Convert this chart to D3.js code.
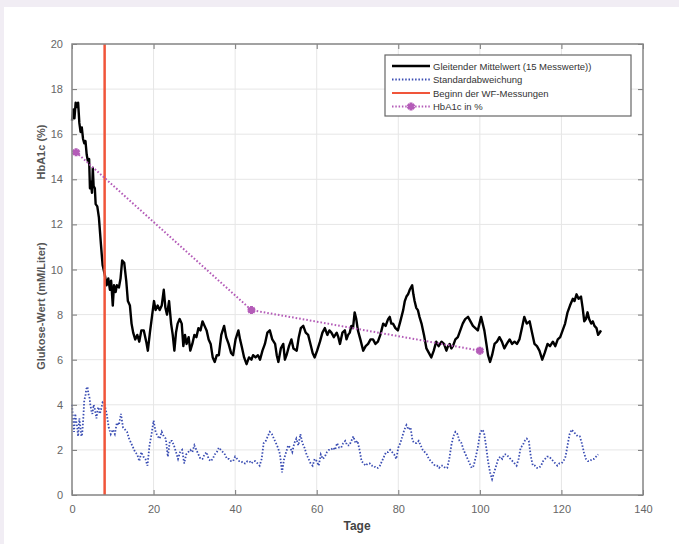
<!DOCTYPE html>
<html>
<head>
<meta charset="utf-8">
<script src="https://cdn.jsdelivr.net/npm/d3@7"></script>
<style>
  body { margin: 0; background: #f1edf4; }
  svg { display: block; }
</style>
</head>
<body>
<svg id="chart" width="679" height="544"></svg>
<script>
// Gleitender Mittelwert (15 Messwerte) -- [Tag, mM/Liter]
const meanSeries = [
  [0, 16.6], [0.3, 17.1], [0.6, 16.7], [0.9, 17.4], [1.2, 17.2], [1.5, 17.4], [1.8, 16.5], [2.1, 16.1],
  [2.4, 16.3], [2.7, 15.8], [3.0, 15.6], [3.3, 15.7], [3.6, 15.1], [3.9, 14.8], [4.2, 14.9], [4.4, 13.6],
  [4.6, 13.9], [4.9, 13.4], [5.1, 14.5], [5.3, 13.7], [5.6, 13.6], [5.8, 12.9], [6.2, 12.8], [6.6, 12.3],
  [7.1, 11.1], [7.5, 10.2], [8.0, 9.8], [8.5, 9.3], [8.9, 9.6], [9.3, 9.1], [9.6, 9.5], [10.0, 8.4],
  [10.3, 9.3], [10.7, 9.0], [11.0, 9.3], [11.5, 9.2], [11.9, 9.6], [12.3, 10.4], [12.8, 10.3], [13.3, 9.5],
  [13.7, 8.6], [14.2, 8.4], [14.6, 7.6], [15.0, 7.2], [15.5, 6.9], [16.0, 7.1], [16.5, 6.8], [17.0, 7.3],
  [17.6, 7.3], [18.2, 6.8], [18.6, 6.4], [19.1, 7.2], [19.6, 7.9], [20.1, 8.6], [20.5, 8.2], [21.0, 8.4],
  [21.5, 8.2], [22.0, 8.4], [22.5, 9.1], [22.9, 8.3], [23.3, 8.0], [23.8, 8.6], [24.3, 7.6], [24.7, 7.1],
  [25.1, 6.4], [25.5, 7.2], [25.9, 7.6], [26.4, 7.8], [26.9, 7.6], [27.3, 6.6], [27.7, 7.1], [28.1, 6.7],
  [28.6, 7.0], [29.0, 6.4], [29.5, 6.7], [30.0, 7.1], [30.5, 7.0], [31.0, 7.4], [31.5, 7.3], [32.0, 7.7],
  [32.5, 7.5], [33.0, 7.3], [33.5, 6.9], [34.0, 6.7], [34.5, 6.1], [35.0, 5.9], [35.5, 6.2], [36.0, 6.2],
  [36.6, 7.1], [37.3, 7.5], [37.8, 7.0], [38.4, 6.7], [39.0, 6.3], [39.5, 6.2], [40.1, 6.9], [40.8, 7.3],
  [41.2, 6.9], [41.6, 6.6], [42.2, 6.1], [42.8, 5.8], [43.4, 6.1], [44.0, 6.0], [44.4, 6.2], [45.0, 6.1],
  [45.6, 6.2], [46.1, 6.0], [46.7, 6.4], [47.3, 6.7], [47.9, 7.2], [48.5, 7.3], [49.1, 6.9], [49.8, 6.7],
  [50.2, 6.2], [50.6, 5.9], [51.2, 6.5], [51.8, 6.7], [52.2, 6.0], [52.6, 6.2], [53.2, 6.6], [53.8, 6.9],
  [54.3, 6.5], [55.1, 6.4], [55.6, 7.0], [56.1, 7.4], [56.7, 7.5], [57.3, 7.2], [57.9, 7.1], [58.6, 6.6],
  [59.0, 6.3], [59.5, 6.1], [60.1, 6.4], [60.8, 6.8], [61.4, 7.2], [62.0, 7.4], [62.6, 7.1], [63.1, 7.3],
  [63.6, 7.2], [64.2, 7.0], [64.9, 7.2], [65.3, 7.0], [65.7, 6.7], [66.3, 7.2], [66.9, 7.3], [67.3, 6.9],
  [67.7, 7.1], [68.1, 7.2], [68.5, 7.5], [68.9, 7.4], [69.3, 8.1], [69.7, 7.8], [70.1, 7.3], [70.7, 6.9],
  [71.4, 6.4], [72.0, 6.6], [72.6, 6.7], [73.2, 6.9], [73.8, 6.9], [74.4, 6.7], [75.0, 6.8], [75.6, 7.1],
  [76.3, 7.6], [76.9, 7.5], [77.5, 7.8], [77.9, 7.9], [78.3, 7.6], [78.7, 7.6], [79.3, 7.4], [79.9, 7.3],
  [80.5, 7.7], [81.2, 8.2], [81.6, 8.6], [82.0, 8.8], [82.4, 8.9], [82.8, 9.1], [83.4, 9.3], [83.7, 8.9],
  [84.0, 8.6], [84.4, 8.3], [84.8, 8.2], [85.2, 7.9], [85.7, 7.6], [86.3, 7.1], [86.9, 6.5], [87.5, 6.3],
  [88.1, 6.1], [88.7, 6.4], [89.3, 6.8], [89.9, 6.6], [90.6, 6.8], [91.2, 6.7], [91.8, 6.4], [92.2, 6.6],
  [92.6, 6.7], [93.0, 6.5], [93.4, 6.6], [94.0, 6.9], [94.6, 7.0], [95.2, 7.3], [95.8, 7.6], [96.4, 7.8],
  [97.1, 7.9], [97.7, 7.7], [98.3, 7.5], [98.9, 7.4], [99.5, 7.3], [99.9, 7.6], [100.3, 7.9], [100.7, 7.6],
  [101.1, 7.3], [101.6, 6.7], [102.0, 6.2], [102.5, 5.9], [103.0, 6.2], [103.6, 6.7], [104.2, 6.8],
  [104.8, 7.0], [105.4, 6.8], [106.0, 6.5], [106.6, 6.7], [107.3, 6.9], [107.9, 6.7], [108.5, 6.8],
  [109.1, 6.7], [109.7, 6.9], [110.3, 7.4], [110.9, 7.9], [111.5, 7.6], [112.2, 7.7], [112.8, 7.2],
  [113.4, 6.7], [114.0, 6.6], [114.6, 6.4], [115.3, 6.0], [115.9, 6.3], [116.6, 6.7], [117.2, 6.6],
  [117.9, 6.8], [118.5, 6.6], [119.1, 6.9], [119.7, 7.0], [120.3, 7.3], [120.9, 7.6], [121.5, 8.1],
  [122.1, 8.4], [122.8, 8.7], [123.2, 8.6], [123.7, 8.9], [124.2, 8.7], [124.8, 8.8], [125.2, 8.3],
  [125.6, 7.7], [126.0, 7.8], [126.4, 8.1], [126.8, 7.8], [127.3, 7.6], [127.7, 7.7], [128.1, 7.5],
  [128.6, 7.4], [129.0, 7.1], [129.4, 7.2], [129.7, 7.3]
];

// Standardabweichung -- [Tag, mM/Liter]
const sdSeries = [
  [0, 4.0], [0.3, 3.2], [0.5, 2.8], [0.8, 3.6], [1, 3.3], [1.3, 3.0], [1.5, 2.6], [1.8, 3.4], [2, 3.1],
  [2.3, 2.6], [2.5, 2.7], [2.8, 3.5], [3, 4.2], [3.3, 4.4], [3.5, 4.7], [3.8, 4.8], [4, 4.5], [4.3, 4.3],
  [4.5, 4.0], [4.8, 3.7], [5, 3.6], [5.3, 4.0], [5.5, 3.9], [5.8, 3.6], [6, 3.4], [6.3, 3.8], [6.5, 3.9],
  [6.8, 3.6], [7, 3.7], [7.5, 4.1], [8, 4.0], [8.5, 3.6], [9, 3.0], [9.5, 2.7], [10, 2.9], [10.5, 2.7],
  [11, 3.2], [11.5, 3.1], [12, 3.6], [12.5, 3.0], [13, 2.9], [13.5, 2.8], [14, 2.5], [14.5, 2.3], [15, 2.1],
  [15.5, 1.9], [16, 1.8], [16.5, 1.5], [17, 1.9], [17.5, 1.7], [18, 1.6], [18.5, 1.3], [19, 2.2],
  [19.5, 2.7], [20, 3.3], [20.5, 2.8], [21, 2.6], [21.5, 2.5], [22, 2.8], [22.5, 2.6], [23, 2.5],
  [23.5, 1.7], [24, 2.4], [24.5, 2.4], [25, 2.2], [25.5, 1.9], [26, 1.6], [26.5, 1.9], [27, 2.0],
  [27.5, 1.4], [28, 1.8], [28.5, 1.9], [29, 2.0], [29.5, 1.9], [30, 2.2], [30.5, 2.0], [31, 1.8],
  [31.5, 1.6], [32, 1.6], [32.5, 1.8], [33, 1.9], [33.5, 1.6], [34, 1.5], [34.5, 1.6], [35, 1.8],
  [35.5, 1.9], [36, 2.1], [36.5, 2.0], [37, 1.9], [37.5, 1.8], [38, 1.6], [38.5, 1.6], [39, 1.5],
  [39.5, 1.5], [40, 1.7], [40.5, 1.6], [41, 1.5], [41.5, 1.5], [42, 1.4], [42.5, 1.4], [43, 1.5],
  [43.5, 1.5], [44, 1.4], [44.5, 1.5], [45, 1.5], [45.5, 1.4], [46, 1.3], [46.5, 1.6], [47, 2.3],
  [47.5, 2.4], [48, 2.6], [48.5, 2.8], [49, 2.7], [49.5, 2.5], [50, 2.3], [50.5, 2.1], [51, 1.8],
  [51.5, 1.0], [52, 1.6], [52.5, 1.9], [53, 2.2], [53.5, 2.1], [54, 1.9], [54.5, 2.3], [55, 2.5],
  [55.5, 2.2], [56, 2.7], [56.5, 2.3], [57, 2.1], [57.5, 1.8], [58, 1.6], [58.5, 1.4], [59, 1.3],
  [59.5, 1.6], [60, 1.5], [60.5, 1.3], [61, 1.8], [61.5, 1.6], [62, 1.7], [62.5, 1.9], [63, 2.0],
  [63.5, 2.0], [64, 2.1], [64.5, 2.0], [65, 2.3], [65.5, 2.1], [66, 2.1], [66.5, 2.3], [67, 2.4],
  [67.5, 2.2], [68, 2.2], [68.5, 2.4], [69, 2.6], [69.5, 2.3], [70, 2.4], [70.5, 2.0], [71, 1.5],
  [71.5, 1.4], [72, 1.3], [72.5, 1.4], [73, 1.4], [73.5, 1.3], [74, 1.3], [74.5, 1.2], [75, 1.2],
  [75.5, 1.3], [76, 1.5], [76.5, 1.7], [77, 1.9], [77.5, 1.9], [78, 2.0], [78.5, 1.9], [79, 1.8],
  [79.5, 1.6], [80, 2.1], [80.5, 2.3], [81, 2.6], [81.5, 2.9], [82, 3.1], [82.5, 2.9], [83, 3.0],
  [83.5, 2.4], [84, 2.3], [84.5, 2.3], [85, 2.4], [85.5, 2.2], [86, 2.0], [86.5, 1.9], [87, 1.8],
  [87.5, 1.6], [88, 1.5], [88.5, 1.4], [89, 1.3], [89.5, 1.3], [90, 1.2], [90.5, 1.3], [91, 1.3],
  [91.5, 1.2], [92, 1.2], [92.5, 1.6], [93, 2.2], [93.5, 2.6], [94, 2.8], [94.5, 2.7], [95, 2.4],
  [95.5, 2.3], [96, 2.0], [96.5, 1.8], [97, 1.6], [97.5, 1.4], [98, 1.2], [98.5, 1.3], [99, 1.7],
  [99.5, 2.1], [100, 2.7], [100.5, 2.9], [101, 2.8], [101.5, 2.2], [102, 1.5], [102.5, 1.0], [103, 0.7],
  [103.5, 1.0], [104, 1.3], [104.5, 1.6], [105, 1.7], [105.5, 1.6], [106, 1.8], [106.5, 1.8], [107, 1.7],
  [107.5, 1.6], [108, 1.5], [108.5, 1.4], [109, 1.3], [109.5, 1.6], [110, 2.1], [110.5, 2.2], [111, 2.4],
  [111.5, 2.5], [112, 2.4], [112.5, 1.7], [113, 1.3], [113.5, 1.3], [114, 1.2], [114.5, 1.2], [115, 1.3],
  [115.5, 1.5], [116, 1.6], [116.5, 1.7], [117, 1.7], [117.5, 1.6], [118, 1.5], [118.5, 1.4], [119, 1.3],
  [119.5, 1.4], [120, 1.4], [120.5, 1.5], [121, 1.7], [121.5, 2.2], [122, 2.7], [122.5, 2.9], [123, 2.8],
  [123.5, 2.7], [124, 2.6], [124.5, 2.6], [125, 2.3], [125.5, 1.9], [126, 1.6], [126.5, 1.5], [127, 1.5],
  [127.5, 1.6], [128, 1.6], [128.5, 1.7], [129, 1.8]
];

// HbA1c in % -- [Tag, %]
const hba1c = [[1, 15.2], [44, 8.2], [100, 6.4]];

// Beginn der WF-Messungen (Tag)
const wfStart = 8;

const xTicks = [0, 20, 40, 60, 80, 100, 120, 140];
const yTicks = [0, 2, 4, 6, 8, 10, 12, 14, 16, 18, 20];

const legendItems = [
  { label: "Gleitender Mittelwert (15 Messwerte))", kind: "mean" },
  { label: "Standardabweichung", kind: "sd" },
  { label: "Beginn der WF-Messungen", kind: "wf" },
  { label: "HbA1c in %", kind: "hba" }
];

const colors = { mean: "#000", sd: "#3a4db3", wf: "#f0553a", hba: "#b45cb8" };

var svg = d3.select("#chart");
var font = "'Liberation Sans', Arial, sans-serif";

// white panel on lavender page
svg.append("rect").attr("x", 4).attr("y", 7).attr("width", 675).attr("height", 537).attr("fill", "#fff");

var margin = { left: 72, top: 44, right: 36, bottom: 49 },
    width = 679 - margin.left - margin.right,
    height = 544 - margin.top - margin.bottom,
    g = svg.append("g").attr("transform", "translate(" + margin.left + "," + margin.top + ")");

var x = d3.scaleLinear().domain([0, 140]).range([0, width]);
var y = d3.scaleLinear().domain([0, 20]).range([height, 0]);

// grid
g.append("g").selectAll("line").data(xTicks).join("line")
    .attr("x1", d => x(d)).attr("x2", d => x(d)).attr("y1", 0).attr("y2", height)
    .attr("stroke", "#e6e6e6").attr("stroke-width", 1);
g.append("g").selectAll("line").data(yTicks).join("line")
    .attr("x1", 0).attr("x2", width).attr("y1", d => y(d)).attr("y2", d => y(d))
    .attr("stroke", "#e6e6e6").attr("stroke-width", 1);

// axes with inward ticks on all sides
function styleAxis(sel) {
  sel.select(".domain").remove();
  sel.selectAll(".tick line").attr("stroke", "#777").attr("stroke-width", 1);
  sel.selectAll(".tick text").attr("fill", "#666").style("font-family", font).style("font-size", "11px");
}
g.append("g").attr("transform", "translate(0," + height + ")")
    .call(d3.axisBottom(x).tickValues(xTicks).tickSizeInner(-5).tickSizeOuter(0).tickPadding(10))
    .call(styleAxis);
g.append("g")
    .call(d3.axisLeft(y).tickValues(yTicks).tickSizeInner(-5).tickSizeOuter(0).tickPadding(9))
    .call(styleAxis);
g.append("g")
    .call(d3.axisTop(x).tickValues(xTicks).tickSizeInner(-5).tickSizeOuter(0).tickFormat(""))
    .call(styleAxis);
g.append("g").attr("transform", "translate(" + width + ",0)")
    .call(d3.axisRight(y).tickValues(yTicks).tickSizeInner(-5).tickSizeOuter(0).tickFormat(""))
    .call(styleAxis);

// std dev
var line = d3.line().x(d => x(d[0])).y(d => y(d[1]));
g.append("path").datum(sdSeries)
    .attr("fill", "none").attr("stroke", colors.sd).attr("stroke-width", 1.8)
    .attr("stroke-dasharray", "1.5,1.8").attr("d", line);

// moving mean
g.append("path").datum(meanSeries)
    .attr("fill", "none").attr("stroke", colors.mean).attr("stroke-width", 2.4)
    .attr("stroke-linejoin", "round").attr("d", line);

// WF start
g.append("line")
    .attr("x1", x(wfStart)).attr("x2", x(wfStart)).attr("y1", 0).attr("y2", height)
    .attr("stroke", colors.wf).attr("stroke-width", 2.5);

// HbA1c
g.append("path").datum(hba1c)
    .attr("fill", "none").attr("stroke", colors.hba).attr("stroke-width", 2)
    .attr("stroke-dasharray", "1.6,2").attr("d", line);
var star = d3.symbol().type(d3.symbolAsterisk).size(45);
g.append("g").selectAll("path").data(hba1c).join("path")
    .attr("transform", d => "translate(" + x(d[0]) + "," + y(d[1]) + ")")
    .attr("d", star).attr("fill", "none").attr("stroke", colors.hba).attr("stroke-width", 3);

// frame
g.append("rect").attr("width", width).attr("height", height)
    .attr("fill", "none").attr("stroke", "#888").attr("stroke-width", 1.5);

// axis labels
svg.append("text").attr("x", margin.left + width / 2 - 0.5).attr("y", 530)
    .attr("text-anchor", "middle").attr("fill", "#444")
    .style("font-family", font).style("font-size", "12px").style("font-weight", "bold")
    .text("Tage");
svg.append("text").attr("transform", "translate(45,152) rotate(-90)")
    .attr("text-anchor", "middle").attr("fill", "#555")
    .style("font-family", font).style("font-size", "11px").style("font-weight", "bold")
    .text("HbA1c (%)");
svg.append("text").attr("transform", "translate(45,306) rotate(-90)")
    .attr("text-anchor", "middle").attr("fill", "#555")
    .style("font-family", font).style("font-size", "11px").style("font-weight", "bold")
    .text("Glukose-Wert (mM/Liter)");

// legend
var lg = svg.append("g").attr("transform", "translate(385,55)");
lg.append("rect").attr("width", 246).attr("height", 61)
    .attr("fill", "#fff").attr("stroke", "#666").attr("stroke-width", 1.2);
var rows = lg.selectAll("g.row").data(legendItems).join("g")
    .attr("class", "row")
    .attr("transform", (d, i) => "translate(0," + (11 + i * 13.5) + ")");
rows.append("line").attr("x1", 7).attr("x2", 45).attr("y1", 0).attr("y2", 0)
    .attr("stroke", d => colors[d.kind])
    .attr("stroke-width", d => d.kind == "mean" ? 2.4 : 1.8)
    .attr("stroke-dasharray", d => (d.kind == "sd" || d.kind == "hba") ? "1.5,1.8" : null);
rows.filter(d => d.kind == "hba").append("path")
    .attr("transform", "translate(26,0)").attr("d", star)
    .attr("fill", "none").attr("stroke", colors.hba).attr("stroke-width", 3);
rows.append("text").attr("x", 48).attr("y", 3.5)
    .attr("fill", "#333").style("font-family", font).style("font-size", "9.5px")
    .text(d => d.label);
</script>
</body>
</html>
